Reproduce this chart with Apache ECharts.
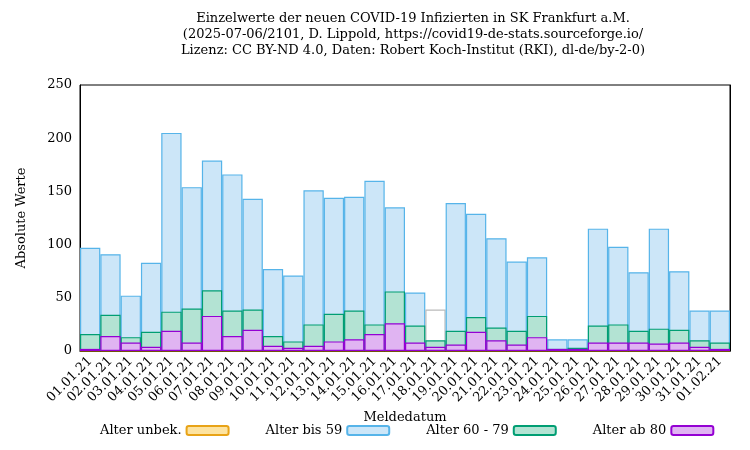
<!DOCTYPE html>
<html><head><meta charset="utf-8">
<script src="https://cdn.jsdelivr.net/npm/echarts@6/dist/echarts.min.js"></script>
</head><body style="margin:0">
<div id="main" style="width:750px;height:450px"></div>
<script>
var days = ['01.01.21','02.01.21','03.01.21','04.01.21','05.01.21','06.01.21','07.01.21','08.01.21','09.01.21','10.01.21','11.01.21','12.01.21','13.01.21','14.01.21','15.01.21','16.01.21','17.01.21','18.01.21','19.01.21','20.01.21','21.01.21','22.01.21','23.01.21','24.01.21','25.01.21','26.01.21','27.01.21','28.01.21','29.01.21','30.01.21','31.01.21','01.02.21'];
// Oberkanten (kumuliert)
var bis59 = [97,91,52,83,205,154,179,166,143,77,71,151,144,145,160,135,55,39,139,129,106,84,88,11,11,115,98,74,115,75,38,38];
var bis79 = [16,34,13,18,37,40,57,38,39,14,9,25,35,38,25,56,24,10,19,32,22,19,33,2,3,24,25,19,21,20,10,8];
var ab80 = [2,14,8,4,19,8,33,14,20,5,3,5,9,11,16,26,8,4,6,18,10,6,13,2,2,8,8,8,7,8,4,2];
var unbek = days.map(function () { return 0; });

var font = 'DejaVu Serif';
var chart = echarts.init(document.getElementById('main'));

function bars(name, data, fill, line) {
    return {
        name: name, type: 'bar', data: data, barGap: '-100%', barCategoryGap: 0,
        itemStyle: { color: fill, borderColor: line, borderWidth: 1.2 }
    };
}

var blue = bis59.map(function (v, i) {
    // 18.01.21 ist im Original ohne Füllung
    return i == 17 ? { value: v, itemStyle: { color: 'rgba(255,255,255,0)', borderColor: '#bbbbbb' } } : v;
});

chart.setOption({
    animation: false,
    textStyle: { fontFamily: font, color: '#000' },
    title: {
        text: 'Einzelwerte der neuen COVID-19 Infizierten in SK Frankfurt a.M.\n(2025-07-06/2101, D. Lippold, https://covid19-de-stats.sourceforge.io/\nLizenz: CC BY-ND 4.0, Daten: Robert Koch-Institut (RKI), dl-de/by-2-0)',
        left: 408, top: 6, textAlign: 'center',
        textStyle: { fontFamily: font, fontSize: 13, fontWeight: 'normal', lineHeight: 16, color: '#000' }
    },
    legend: {
        bottom: 8, left: 95, itemGap: 36, itemWidth: 42, itemHeight: 9, align: 'right',
        textStyle: { fontFamily: font, fontSize: 13, color: '#000' },
        data: ['Alter unbek.', 'Alter bis 59', 'Alter 60 - 79', 'Alter ab 80']
    },
    grid: { left: 80, right: 20, top: 85, bottom: 99, show: true, borderColor: '#000', borderWidth: 1 },
    xAxis: {
        type: 'category', data: days, name: 'Meldedatum', nameLocation: 'middle', nameGap: 60,
        nameTextStyle: { fontFamily: font, fontSize: 13 },
        axisLine: { lineStyle: { color: '#000' } },
        axisTick: { alignWithLabel: true, lineStyle: { color: '#000' } },
        axisLabel: { rotate: 45, interval: 0, fontFamily: font, fontSize: 13, color: '#000' }
    },
    yAxis: [{
        type: 'value', min: 0, max: 250, interval: 50, name: 'Absolute Werte',
        nameLocation: 'middle', nameGap: 52, nameTextStyle: { fontFamily: font, fontSize: 13 },
        axisLine: { show: true, lineStyle: { color: '#000' } },
        axisTick: { inside: true, lineStyle: { color: '#000' } },
        splitLine: { show: false },
        axisLabel: { fontFamily: font, fontSize: 13, color: '#000' }
    }, {
        type: 'value', min: 0, max: 250, interval: 50, position: 'right',
        axisLine: { show: true, lineStyle: { color: '#000' } },
        axisTick: { inside: true, lineStyle: { color: '#000' } },
        splitLine: { show: false }, axisLabel: { show: false }
    }],
    series: [
        bars('Alter unbek.', unbek, '#fde3a0', '#e8a317'),
        bars('Alter bis 59', blue, '#cce6f8', '#56b4e9'),
        bars('Alter 60 - 79', bis79, '#b3e3d3', '#009e73'),
        bars('Alter ab 80', ab80, '#e0b4f2', '#9400d3')
    ]
});
</script>
</body></html>
